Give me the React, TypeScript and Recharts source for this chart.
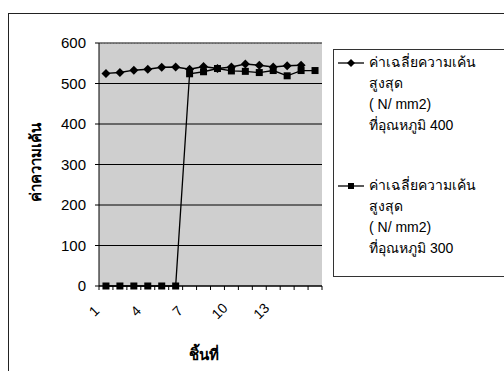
import { CartesianGrid, Label, Line, LineChart, ReferenceLine, XAxis, YAxis } from "recharts";

const categories = ["1", "2", "3", "4", "5", "6", "7", "8", "9", "10", "11", "12", "13", "14", "15", "16"];
const stress400 = [525, 527, 533, 535, 540, 541, 535, 542, 537, 541, 548, 545, 541, 544, 545, null];
const stress300 = [0, 0, 0, 0, 0, 0, 524, 529, 537, 531, 530, 527, 532, 519, 532, 532];
const xTickLabels = ["1", "4", "7", "10", "13"];
const yTicks = [0, 100, 200, 300, 400, 500, 600];
const legend400 = ["ค่าเฉลี่ยความเค้น", "สูงสุด", "( N/ mm2)", "ที่อุณหภูมิ 400"];
const legend300 = ["ค่าเฉลี่ยความเค้น", "สูงสุด", "( N/ mm2)", "ที่อุณหภูมิ 300"];

const data = categories.map((name, i) => ({ name, t400: stress400[i], t300: stress300[i] }));

const FONT = "'Liberation Sans', Arial, sans-serif";

function Diamond(props: any) {
  const { cx, cy, index } = props;
  if (cx == null || cy == null) return <g key={`d${index}`} />;
  const r = 4.5;
  return <path key={`d${index}`} d={`M${cx},${cy - r}L${cx + r},${cy}L${cx},${cy + r}L${cx - r},${cy}Z`} fill="#000" />;
}

function Square(props: any) {
  const { cx, cy, index } = props;
  if (cx == null || cy == null) return <g key={`s${index}`} />;
  const h = 3.5;
  return <rect key={`s${index}`} x={cx - h} y={cy - h} width={h * 2} height={h * 2} fill="#000" />;
}

// Excel style: tick marks between categories, slanted label on every third one
function XTick(props: any) {
  const { x, y, payload, width, index } = props;
  const bw = width / categories.length;
  const axisY = y;
  const cx = x - 12;
  const cy = y + 25;
  const isLast = index === categories.length - 1;
  return (
    <g>
      <line x1={x - bw / 2} y1={axisY} x2={x - bw / 2} y2={axisY + 4} stroke="#000" />
      {isLast && <line x1={x + bw / 2} y1={axisY} x2={x + bw / 2} y2={axisY + 4} stroke="#000" />}
      {xTickLabels.includes(payload.value) && (
        <text x={cx} y={cy} transform={`rotate(-45 ${cx} ${cy})`} textAnchor="middle" dominantBaseline="central" fontSize={14} fontFamily={FONT} fill="#000">
          {payload.value}
        </text>
      )}
    </g>
  );
}

function LegendItem({ lines, marker }: { lines: string[]; marker: "diamond" | "square" }) {
  return (
    <div style={{ display: "flex", alignItems: "flex-start" }}>
      <svg width={30} height={21} style={{ flex: "none" }}>
        <line x1={2} y1={11} x2={28} y2={11} stroke="#000" strokeWidth={1.3} />
        {marker === "diamond" ? (
          <path d="M15,7L19,11L15,15L11,11Z" fill="#000" />
        ) : (
          <rect x={12} y={8} width={6} height={6} fill="#000" />
        )}
      </svg>
      <div style={{ marginLeft: 3 }}>
        {lines.map((t) => (
          <div key={t} style={{ height: 21, lineHeight: "21px", fontSize: 14, whiteSpace: "nowrap" }}>
            {t}
          </div>
        ))}
      </div>
    </div>
  );
}

export default function App() {
  return (
    <div style={{ position: "absolute", left: 0, top: 0, width: 504, height: 371, overflow: "hidden", background: "#fff", fontFamily: FONT }}>
      <div style={{ position: "absolute", left: 8, top: 13, width: 600, height: 400, borderLeft: "1.5px solid #222", borderTop: "1.5px solid #222" }} />
      <LineChart width={504} height={371} data={data} margin={{ top: 43, right: 182, left: 8, bottom: 14 }} style={{ position: "absolute", left: 0, top: 0 }}>
        <CartesianGrid vertical={false} stroke="#000" fill="#cfcfcf" fillOpacity={1} />
        <ReferenceLine y={600} stroke="#8a8a8a" strokeDasharray="2 1" />
        <XAxis
          dataKey="name"
          scale="band"
          interval={0}
          height={71}
          stroke="#000"
          tickLine={false}
          tickSize={0}
          tickMargin={0}
          tick={XTick}
        >
          <Label
            content={({ viewBox }: any) => (
              <text x={viewBox.x + viewBox.width / 2 - 7} y={viewBox.y + viewBox.height + 3} textAnchor="middle" fontSize={15} fontWeight="bold" fontFamily={FONT} fill="#000">
                ชิ้นที่
              </text>
            )}
          />
        </XAxis>
        <YAxis
          domain={[0, 600]}
          ticks={yTicks}
          width={91}
          stroke="#000"
          tickSize={4}
          tickMargin={9}
          tick={{ fill: "#000", fontSize: 15, fontFamily: FONT }}
        >
          <Label
            content={({ viewBox }: any) => {
              const x = viewBox.x + 27;
              const y = viewBox.y + viewBox.height / 2 - 2;
              return (
                <text x={x} y={y} transform={`rotate(-90 ${x} ${y})`} textAnchor="middle" dominantBaseline="central" fontSize={15} fontWeight="bold" fontFamily={FONT} fill="#000">
                  ค่าความเค้น
                </text>
              );
            }}
          />
        </YAxis>
        <YAxis yAxisId="right" orientation="right" domain={[0, 600]} width={0} tick={false} tickLine={false} stroke="#8a8a8a" strokeDasharray="2 1" />
        <Line type="linear" dataKey="t400" stroke="#000" strokeWidth={1.5} dot={Diamond} activeDot={false} isAnimationActive={false} connectNulls={false} />
        <Line type="linear" dataKey="t300" stroke="#000" strokeWidth={1.3} dot={Square} activeDot={false} isAnimationActive={false} />
      </LineChart>
      <div style={{ position: "absolute", left: 333, top: 49, width: 220, height: 228, border: "1px solid #333", boxSizing: "border-box", paddingTop: 2, paddingLeft: 2, color: "#000" }}>
        <LegendItem lines={legend400} marker="diamond" />
        <div style={{ height: 39 }} />
        <LegendItem lines={legend300} marker="square" />
      </div>
    </div>
  );
}
